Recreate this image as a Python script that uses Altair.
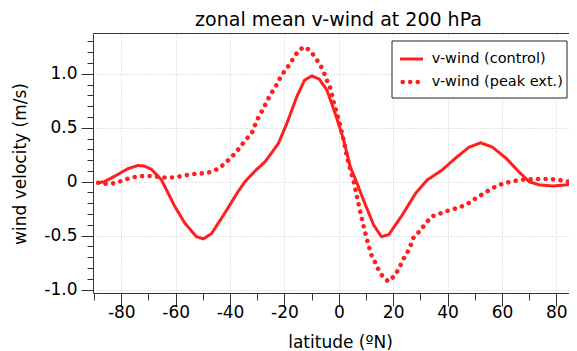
import altair as alt
import pandas as pd

# ---- data ----
series_names = ["v-wind (control)", "v-wind (peak ext.)"]

lat_control = [-88.5, -86.2, -82.5, -77.6, -73.9, -71.5, -68.9, -65.2, -60.3, -56.6,
               -52.3, -49.8, -46.8, -41.9, -37.0, -34.5, -30.8, -27.1, -22.2, -19.1,
               -15.4, -12.6, -9.9, -7.2, -4.4, -1.3, 1.8, 4.2, 6.7, 9.8,
               12.8, 15.7, 18.4, 23.3, 28.2, 32.5, 38.1, 43.0, 47.9, 52.2,
               56.5, 61.4, 66.3, 70.0, 73.7, 78.7, 83.6, 87.5]
v_control = [-0.01, 0.0, 0.05, 0.12, 0.15, 0.145, 0.115, 0.016, -0.23, -0.385,
             -0.51, -0.53, -0.48, -0.29, -0.09, 0.0, 0.10, 0.185, 0.355, 0.54,
             0.79, 0.94, 0.98, 0.95, 0.85, 0.63, 0.386, 0.14, -0.015, -0.215,
             -0.40, -0.51, -0.49, -0.31, -0.11, 0.016, 0.11, 0.22, 0.32, 0.36,
             0.32, 0.22, 0.09, 0.0, -0.03, -0.04, -0.03, -0.01]

lat_peak = [-88.5, -85.5, -82.7, -80.0, -77.3, -74.6, -71.8, -68.9, -66.2, -63.4,
            -60.6, -57.7, -55.0, -52.2, -49.5, -46.7, -44.0, -41.9, -39.9, -37.9,
            -36.2, -34.5, -32.0, -30.2, -27.5, -25.3, -22.8, -21.0, -19.1, -17.5,
            -16.1, -14.2, -12.4, -10.1, -8.4, -6.8, -5.6, -4.4, -3.1, -1.9,
            -0.7, 0.6, 1.8, 3.0, 4.6, 5.5, 6.7, 7.9, 9.2, 10.4,
            12.0, 13.5, 14.7, 16.2, 18.2, 20.2, 21.8, 23.9, 25.8, 27.6,
            30.1, 31.9, 34.4, 38.1, 41.1, 44.2, 47.3, 50.4, 53.4, 56.5,
            60.2, 63.3, 66.3, 70.0, 73.7, 77.4, 81.1, 84.8, 87.5]
v_peak = [-0.01, -0.02, -0.015, 0.006, 0.03, 0.046, 0.053, 0.053, 0.045, 0.037,
          0.04, 0.053, 0.065, 0.074, 0.078, 0.093, 0.124, 0.17, 0.217, 0.27,
          0.324, 0.38, 0.45, 0.565, 0.69, 0.80, 0.90, 0.99, 1.05, 1.11,
          1.17, 1.226, 1.25, 1.20, 1.14, 1.08, 1.02, 0.94, 0.865, 0.74,
          0.63, 0.51, 0.386, 0.23, 0.078, 0.0, -0.14, -0.28, -0.42, -0.54,
          -0.68, -0.755, -0.82, -0.88, -0.925, -0.88, -0.82, -0.71, -0.63, -0.51,
          -0.45, -0.385, -0.32, -0.287, -0.26, -0.24, -0.206, -0.154, -0.107, -0.06,
          -0.02, 0.0, 0.016, 0.022, 0.025, 0.025, 0.016, 0.0, -0.005]

x_major = [-80, -60, -40, -20, 0, 20, 40, 60, 80]
x_minor = [-90, -70, -50, -30, -10, 10, 30, 50, 70]
y_major = [-1.0, -0.5, 0.0, 0.5, 1.0]
y_minor = [-0.9, -0.8, -0.7, -0.6, -0.4, -0.3, -0.2, -0.1, 0.1, 0.2, 0.3, 0.4,
           0.6, 0.7, 0.8, 0.9, 1.1, 1.2, 1.3]

df = pd.concat([
    pd.DataFrame({"lat": lat_control, "v": v_control, "series": series_names[0]}),
    pd.DataFrame({"lat": lat_peak, "v": v_peak, "series": series_names[1]}),
], ignore_index=True)
legend_df = pd.DataFrame({"series": series_names})

FONT = "DejaVu Sans"
RED = "#ff1f1f"
AX = "#333333"

W, H = 476, 259
PX_PER_DEG = 2.719
X0 = -90.4
xscale = alt.Scale(domain=[X0, X0 + W / PX_PER_DEG], nice=False, zero=False)
yscale = alt.Scale(domain=[-1.031, 1.368], nice=False, zero=False)
DASH_SOLID = [1, 0]
DASH_DOTS = [0.01, 7.5]

lines = alt.Chart(df).mark_line(clip=True, strokeCap="round", strokeJoin="round").encode(
    x=alt.X("lat:Q", scale=xscale, axis=alt.Axis(
        values=x_major, title="latitude (ºN)", grid=True, gridColor="#c8c8c8",
        gridDash=[1, 2], gridWidth=1, domainColor=AX, tickColor=AX, tickSize=13,
        labelFont=FONT, labelFontSize=17, labelColor="black", labelBaseline="middle",
        labelPadding=6, labelFlush=False,
        labelExpr="(datum.value < 0 ? '-' : '') + abs(datum.value)",
        titleFont=FONT, titleFontSize=17, titleFontWeight="normal", titleColor="black",
        titleX=247, titleY=49, titleBaseline="middle", titleAnchor="middle")),
    y=alt.Y("v:Q", scale=yscale, axis=alt.Axis(
        values=y_major, title="wind velocity (m/s)", grid=True, gridColor="#c8c8c8",
        gridDash=[1, 2], gridWidth=1, domainColor=AX, tickColor=AX, tickSize=12,
        labelFont=FONT, labelFontSize=17, labelColor="black", labelPadding=4,
        labelFlush=False,
        labelExpr="datum.value == 0 ? '0' : (datum.value < 0 ? '-' : '') + format(abs(datum.value), '.1f')",
        titleFont=FONT, titleFontSize=17, titleFontWeight="normal", titleColor="black",
        titleX=-73, titleY=H / 2, titleBaseline="middle", titleAngle=270)),
    color=alt.Color("series:N", scale=alt.Scale(domain=series_names, range=[RED, RED]),
                    legend=None),
    strokeDash=alt.StrokeDash("series:N", scale=alt.Scale(domain=series_names, range=[DASH_SOLID, DASH_DOTS]),
                              legend=None),
    strokeWidth=alt.StrokeWidth("series:N", scale=alt.Scale(domain=series_names, range=[3, 4.6]),
                                legend=None),
)

minor = alt.Chart(df).mark_line(opacity=0).encode(
    x=alt.X("lat:Q", scale=xscale, axis=alt.Axis(
        values=x_minor, orient="bottom", title=None, labels=False, grid=False,
        domain=False, tickColor=AX, tickSize=7)),
    y=alt.Y("v:Q", scale=yscale, axis=alt.Axis(
        values=y_minor, orient="left", title=None, labels=False, grid=False,
        domain=False, tickColor=AX, tickSize=6)),
    detail="series:N",
)

is_ctrl = alt.datum.series == series_names[0]
is_peak = alt.datum.series == series_names[1]

# top edge of the plot frame (a 1px filled band)
frame_top = alt.Chart(legend_df).transform_filter(is_ctrl).mark_rect(
    fill=AX, strokeWidth=0).encode(
    x=alt.value(0), x2=alt.value(W), y=alt.value(-1), y2=alt.value(0))

# ---- legend (box, samples, labels) ----
LX, LY, LW, LH = 299, 7, 175, 57
ROW1, ROW2 = 25, 48

leg_box = alt.Chart(legend_df).transform_filter(is_ctrl).mark_rect(
    fill="white", stroke="#222222", strokeWidth=1).encode(
    x=alt.value(LX), x2=alt.value(LX + LW), y=alt.value(LY), y2=alt.value(LY + LH))
leg_solid = alt.Chart(legend_df).transform_filter(is_ctrl).mark_rule(
    color=RED, strokeWidth=3).encode(
    x=alt.value(LX + 8), x2=alt.value(LX + 31), y=alt.value(ROW1))
leg_dots = alt.Chart(legend_df).transform_filter(is_peak).mark_rule(
    color=RED, strokeWidth=4.6, strokeCap="round", strokeDash=DASH_DOTS).encode(
    x=alt.value(LX + 10.7), x2=alt.value(LX + 26), y=alt.value(ROW2))
leg_text1 = alt.Chart(legend_df).transform_filter(is_ctrl).mark_text(
    align="left", baseline="middle", font=FONT, fontSize=14.5, color="black").encode(
    x=alt.value(LX + 39.7), y=alt.value(ROW1), text="series:N")
leg_text2 = alt.Chart(legend_df).transform_filter(is_peak).mark_text(
    align="left", baseline="middle", font=FONT, fontSize=14.5, color="black").encode(
    x=alt.value(LX + 39.7), y=alt.value(ROW2), text="series:N")

chart = alt.layer(lines, minor, frame_top, leg_box, leg_solid, leg_dots, leg_text1, leg_text2).resolve_axis(
    x="independent", y="independent"
).properties(
    width=W, height=H,
    autosize=alt.AutoSizeParams(type="none"),
    padding={"left": 85, "top": 26, "right": 0, "bottom": 57},
    title=alt.TitleParams("zonal mean v-wind at 200 hPa", font=FONT, fontSize=19,
                          fontWeight="normal", color="black", anchor="middle",
                          frame="group", dx=7.5, dy=23, offset=11, baseline="alphabetic"),
).configure_view(stroke=None)

chart.save("out.html", embed_options={"renderer": "svg", "actions": False})
